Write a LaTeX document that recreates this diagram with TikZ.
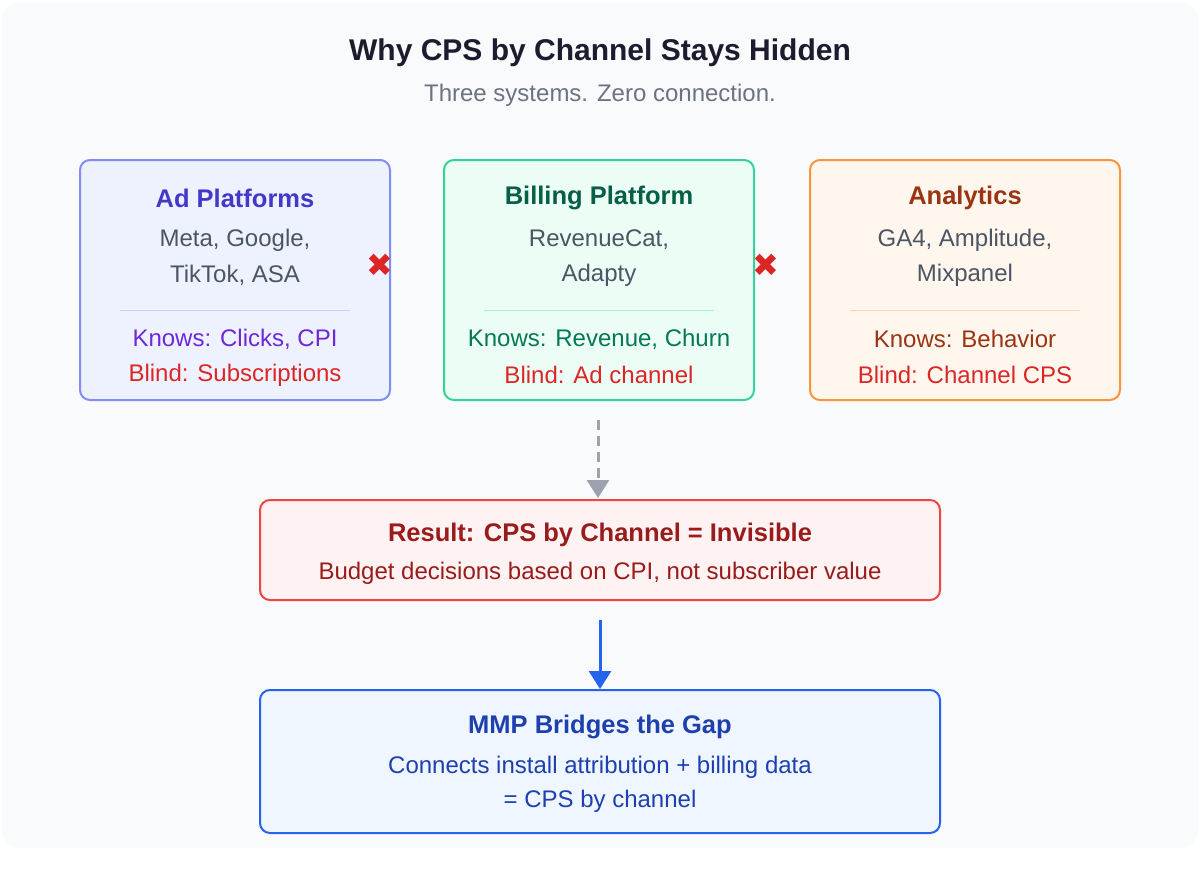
\documentclass[tikz,border=0pt]{standalone}
\usepackage{fontspec}
\setmainfont{Liberation Sans}
\newfontfamily\symf{DejaVu Sans}
\usetikzlibrary{arrows.meta}
\definecolor{bgc}{HTML}{F8FAFC}
\definecolor{titc}{HTML}{1E1B2E}
\definecolor{subc}{HTML}{6B7280}
\definecolor{txc}{HTML}{4B5563}
\definecolor{redc}{HTML}{DC2626}
\definecolor{adB}{HTML}{818CF8}\definecolor{adF}{HTML}{EEF2FF}\definecolor{adT}{HTML}{4338CA}\definecolor{adK}{HTML}{6D28D9}\definecolor{adL}{HTML}{C7D2FE}
\definecolor{biB}{HTML}{34D399}\definecolor{biF}{HTML}{ECFDF5}\definecolor{biT}{HTML}{065F46}\definecolor{biK}{HTML}{047857}\definecolor{biL}{HTML}{A7F3D0}
\definecolor{anB}{HTML}{FB923C}\definecolor{anF}{HTML}{FFF7ED}\definecolor{anT}{HTML}{9A3412}\definecolor{anL}{HTML}{FED7AA}
\definecolor{reB}{HTML}{EF4444}\definecolor{reF}{HTML}{FEF2F2}\definecolor{reT}{HTML}{991B1B}
\definecolor{mmB}{HTML}{2563EB}\definecolor{mmF}{HTML}{EFF6FF}\definecolor{mmT}{HTML}{1E40AF}
\definecolor{grA}{HTML}{9CA3AF}
\begin{document}
\begin{tikzpicture}[x=1pt,y=-1pt,
 box/.style={draw,line width=2pt,rounded corners=10pt},
 t/.style={font=\fontsize{24}{28}\selectfont,anchor=center,inner sep=0},
 tb/.style={font=\fontsize{25.5}{30}\selectfont\bfseries,anchor=center,inner sep=0},
 xm/.style={font=\symf\fontsize{32}{36}\selectfont,text=redc,inner sep=0}]
\useasboundingbox (0,0) rectangle (1200,870);
\fill[white] (0,0) rectangle (1200,870);
\fill[bgc,rounded corners=18pt] (2,2) rectangle (1198,848);
\node[font=\fontsize{30}{34}\selectfont\bfseries,text=titc] (title) at (600,53) {Why CPS by Channel Stays Hidden};
\node[t,text=subc] (sub) at (600,95) {Three systems. Zero connection.};
% Ad platforms
\draw[box,draw=adB,fill=adF] (80,160) rectangle (390,400);
\node[tb,text=adT] (a1) at (235,198) {Ad Platforms};
\node[t,text=txc] (a2) at (235,240) {Meta, Google,};
\node[t,text=txc] (a3) at (235,275) {TikTok, ASA};
\draw[adL,line width=1pt] (120,310) -- (350,310);
\node[t,text=adK] (a4) at (235,339) {Knows: Clicks, CPI};
\node[t,text=redc] (a5) at (235,375) {Blind: Subscriptions};
% Billing
\draw[box,draw=biB,fill=biF] (444,160) rectangle (754,400);
\node[tb,text=biT] (b1) at (599,198) {Billing Platform};
\node[t,text=txc] (b2) at (599,240) {RevenueCat,};
\node[t,text=txc] (b3) at (599,275) {Adapty};
\draw[biL,line width=1pt] (484,310) -- (714,310);
\node[t,text=biK] (b4) at (599,339) {Knows: Revenue, Churn};
\node[t,text=redc] (b5) at (599,375) {Blind: Ad channel};
% Analytics
\draw[box,draw=anB,fill=anF] (810,160) rectangle (1120,400);
\node[tb,text=anT] (c1) at (965,198) {Analytics};
\node[t,text=txc] (c2) at (965,240) {GA4, Amplitude,};
\node[t,text=txc] (c3) at (965,275) {Mixpanel};
\draw[anL,line width=1pt] (850,310) -- (1080,310);
\node[t,text=anT] (c4) at (965,339) {Knows: Behavior};
\node[t,text=redc] (c5) at (965,375) {Blind: Channel CPS};
% X marks
\node[xm] (x1) at (380,265) {✖};
\node[xm] (x2) at (766,265) {✖};
% Result
\draw[box,draw=reB,fill=reF] (260,500) rectangle (940,600);
\node[tb,text=reT] (r1) at (600,535) {Result: CPS by Channel = Invisible};
\node[t,text=reT] (r2) at (600,573) {Budget decisions based on CPI, not subscriber value};
% MMP
\draw[box,draw=mmB,fill=mmF] (260,690) rectangle (940,833);
\node[tb,text=mmT] (m1) at (600,727) {MMP Bridges the Gap};
\node[t,text=mmT] (m2) at (600,767) {Connects install attribution + billing data};
\node[t,text=mmT] (m3) at (600,801) {= CPS by channel};
% arrows
\coordinate (d0) at (598,420); \coordinate (d1) at (598,498);
\draw[grA,line width=3pt,dash pattern=on 10pt off 6pt,-{Triangle[length=18pt,width=22pt]}] (d0) -- (d1);
\coordinate (e0) at (600,620); \coordinate (e1) at (600,689);
\draw[mmB,line width=3pt,-{Triangle[length=18pt,width=22pt]}] (e0) -- (e1);
\end{tikzpicture}
\end{document}
